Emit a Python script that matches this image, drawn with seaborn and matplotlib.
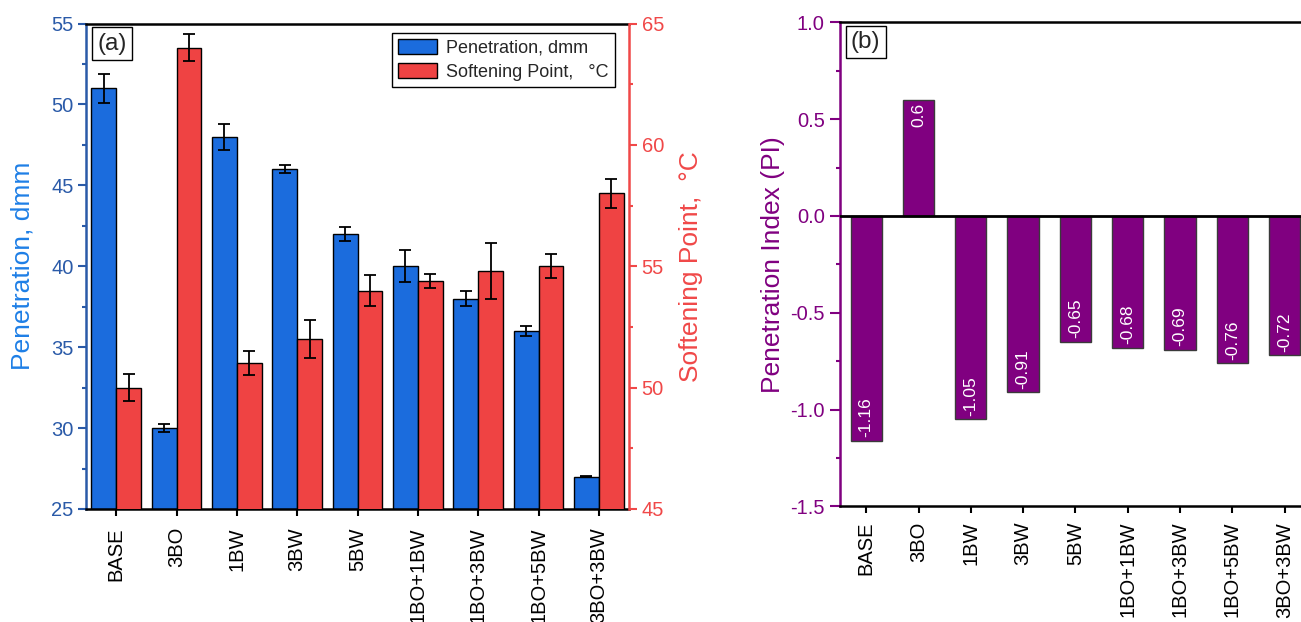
import numpy as np
import pandas as pd
import matplotlib
matplotlib.use("Agg")
import matplotlib.pyplot as plt
from matplotlib.patches import Patch
from matplotlib.ticker import MultipleLocator, FormatStrFormatter
import seaborn as sns

# ---- data -----------------------------------------------------------------
samples = ["BASE", "3BO", "1BW", "3BW", "5BW", "1BO+1BW", "1BO+3BW", "1BO+5BW", "3BO+3BW"]
penetration = [51, 30, 48, 46, 42, 40, 38, 36, 27]
penetration_err = [0.9, 0.25, 0.8, 0.25, 0.45, 1.0, 0.45, 0.3, 0.05]
softening = [50, 64, 51, 52, 54, 54.4, 54.8, 55, 58]
softening_err = [0.55, 0.55, 0.5, 0.8, 0.65, 0.3, 1.15, 0.5, 0.6]
pen_index = [-1.16, 0.6, -1.05, -0.91, -0.65, -0.68, -0.69, -0.76, -0.72]

pen_label = "Penetration, dmm"
sp_label = "Softening Point,   \u00b0C"

# ---- style ----------------------------------------------------------------
sns.set_style("ticks")
plt.rcParams["font.family"] = ["Liberation Sans", "DejaVu Sans"]
plt.rcParams["axes.unicode_minus"] = False

BLUE_BAR = "#1b6cdd"
RED_BAR = "#ef4343"
BLUE_TICK = "#2a5aa8"
BLUE_LABEL = "#1e7fe6"
RED = "#f04848"
PURPLE = "#800080"

TICK_FS = 14.5
LABEL_FS = 19

df = pd.DataFrame({
    "Sample": samples * 2,
    "Property": [pen_label] * len(samples) + [sp_label] * len(samples),
    "Value": penetration + softening,
})
props = [pen_label, sp_label]
palette = {pen_label: BLUE_BAR, sp_label: RED_BAR}

fig = plt.figure(figsize=(13.01, 6.22), dpi=100)
ax1 = fig.add_axes([0.0661, 0.1817, 0.4174, 0.7805])
ax2 = ax1.twinx()
ax3 = fig.add_axes([0.6457, 0.1857, 0.3618, 0.7785])


def bar_centers(ax):
    """Centres of the drawn (finite, non-empty) bars of an axes, left to right."""
    cs = []
    for cont in ax.containers:
        for p in cont.patches:
            h = p.get_height()
            if np.isfinite(h) and h != 0:
                cs.append(p.get_x() + p.get_width() / 2)
    return sorted(set(np.round(cs, 6)))


# ---- panel (a): penetration (left axis) and softening point (right axis) ---
sns.barplot(data=df[df["Property"] == pen_label], x="Sample", y="Value",
            hue="Property", hue_order=props, order=samples, palette=palette,
            dodge=True, width=0.82, saturation=1, errorbar=None,
            edgecolor="black", linewidth=1, legend=False, ax=ax1)
sns.barplot(data=df[df["Property"] == sp_label], x="Sample", y="Value",
            hue="Property", hue_order=props, order=samples, palette=palette,
            dodge=True, width=0.82, saturation=1, errorbar=None,
            edgecolor="black", linewidth=1, legend=False, ax=ax2)

for ax, vals, errs in [(ax1, penetration, penetration_err), (ax2, softening, softening_err)]:
    xs = bar_centers(ax)
    ax.errorbar(xs, vals, yerr=errs, fmt="none", ecolor="black",
                elinewidth=1.3, capsize=4.5, capthick=1.3, zorder=5)

ax1.set_xlim(-0.5, len(samples) - 0.5)
ax1.set_ylim(25, 55)
ax2.set_ylim(45, 65)
ax1.yaxis.set_major_locator(MultipleLocator(5))
ax1.yaxis.set_minor_locator(MultipleLocator(2.5))
ax2.yaxis.set_major_locator(MultipleLocator(5))
ax2.yaxis.set_minor_locator(MultipleLocator(2.5))

ax1.set_xlabel("")
ax2.set_xlabel("")
ax1.set_ylabel("Penetration, dmm", fontsize=LABEL_FS, color=BLUE_LABEL, labelpad=12)
ax2.set_ylabel("Softening Point,  \u00b0C", fontsize=LABEL_FS, color=RED, labelpad=11)

ax1.tick_params(axis="y", which="major", direction="out", length=6, width=1.5,
                colors=BLUE_TICK, labelsize=TICK_FS, pad=3)
ax1.tick_params(axis="y", which="minor", direction="out", length=3, width=1.5,
                colors=BLUE_TICK)
ax2.tick_params(axis="y", which="major", direction="out", length=6, width=1.5,
                colors=RED, labelsize=TICK_FS, pad=3)
ax2.tick_params(axis="y", which="minor", direction="out", length=3, width=1.5,
                colors=RED)
ax1.tick_params(axis="x", direction="out", length=5, width=1.5, colors="black",
                labelsize=TICK_FS, labelrotation=90, pad=8)

for sp in ["top", "bottom"]:
    ax1.spines[sp].set_color("black")
    ax1.spines[sp].set_linewidth(1.8)
    ax2.spines[sp].set_visible(False)
ax1.spines["left"].set_color(BLUE_TICK)
ax1.spines["left"].set_linewidth(1.8)
ax1.spines["right"].set_visible(False)
ax2.spines["left"].set_visible(False)
ax2.spines["right"].set_color(RED)
ax2.spines["right"].set_linewidth(1.8)

handles = [Patch(facecolor=palette[p], edgecolor="black", linewidth=1) for p in props]
ax2.legend(handles, props, loc="upper right", bbox_to_anchor=(0.974, 0.981),
           borderaxespad=0, fontsize=13, frameon=True, fancybox=False,
           edgecolor="black", framealpha=1, handlelength=2.15, handleheight=0.9,
           handletextpad=0.5, labelspacing=0.35, borderpad=0.35)
ax2.get_legend().get_frame().set_linewidth(1.0)

ax1.text(0.021, 0.981, "(a)", transform=ax1.transAxes, ha="left", va="top",
         fontsize=17.5, zorder=10,
         bbox=dict(boxstyle="square,pad=0.22", facecolor="white", edgecolor="black", linewidth=1))

# ---- panel (b): penetration index --------------------------------------------
sns.barplot(x=samples, y=pen_index, order=samples, color=PURPLE, saturation=1,
            width=0.6, errorbar=None, edgecolor="#3a3a3a", linewidth=1, ax=ax3)
ax3.axhline(0, color="black", linewidth=2, zorder=4)

xs3 = bar_centers(ax3)
for x, v in zip(xs3, pen_index):
    ax3.annotate(f"{v:g}", xy=(x, v), xytext=(0, 2.5 if v < 0 else -2.5),
                 textcoords="offset points", rotation=90, ha="center",
                 va="bottom" if v < 0 else "top", color="white", fontsize=12.5,
                 zorder=6)

ax3.set_xlim(-0.5, len(samples) - 0.5)
ax3.set_ylim(-1.5, 1.0)
ax3.yaxis.set_major_locator(MultipleLocator(0.5))
ax3.yaxis.set_minor_locator(MultipleLocator(0.25))
ax3.yaxis.set_major_formatter(FormatStrFormatter("%.1f"))
ax3.set_xlabel("")
ax3.set_ylabel("Penetration Index (PI)", fontsize=LABEL_FS, color=PURPLE, labelpad=4)
ax3.tick_params(axis="y", which="major", direction="out", length=7, width=1.5,
                colors=PURPLE, labelsize=TICK_FS, pad=4)
ax3.tick_params(axis="y", which="minor", direction="out", length=3, width=1.5,
                colors=PURPLE)
ax3.tick_params(axis="x", direction="out", length=5, width=1.5, colors="black",
                labelsize=TICK_FS, labelrotation=90, pad=6)
for sp in ["top", "bottom", "right"]:
    ax3.spines[sp].set_visible(True)
    ax3.spines[sp].set_color("black")
    ax3.spines[sp].set_linewidth(1.8)
ax3.spines["left"].set_color(PURPLE)
ax3.spines["left"].set_linewidth(1.8)

ax3.text(0.023, 0.982, "(b)", transform=ax3.transAxes, ha="left", va="top",
         fontsize=17.5, zorder=10,
         bbox=dict(boxstyle="square,pad=0.22", facecolor="white", edgecolor="black", linewidth=1))

fig.savefig("out.png", dpi=100)
